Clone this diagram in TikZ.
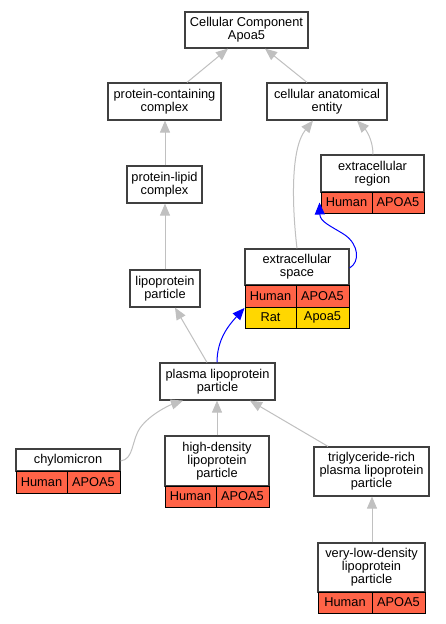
\documentclass[tikz,border=0pt]{standalone}
\usepackage{fontspec}
\setmainfont{Liberation Sans}
\usetikzlibrary{arrows.meta}
\definecolor{edgegrey}{RGB}{192,192,192}
\definecolor{boxline}{RGB}{64,64,64}
\definecolor{tomatoc}{RGB}{255,99,71}
\definecolor{goldc}{RGB}{255,215,0}
\definecolor{blueedge}{RGB}{0,0,255}
\tikzset{
  gbox/.style={draw=boxline, line width=1.2pt, fill=white, inner sep=0pt, align=center,
    font=\fontsize{12.8}{13}\selectfont},
  cellbox/.style={draw=black, line width=1pt, inner sep=0pt, align=center,
    font=\fontsize{12.8}{13}\selectfont},
  humancell/.style={cellbox, fill=tomatoc},
  ratcell/.style={cellbox, fill=goldc},
  isa/.style={draw=edgegrey, line width=1pt, -{Triangle[length=12pt,width=10pt]}},
  orth/.style={draw=blueedge, line width=1pt, -{Triangle[length=12pt,width=10pt]}},
}
\begin{document}
\begin{tikzpicture}[x=1pt,y=-1pt]
\useasboundingbox (0,0) rectangle (445,624);
\fill[white] (0,0) rectangle (445,624);
% nodes
\node[gbox, minimum width=123pt, minimum height=36pt] (cc) at (246.5,30) {Cellular Component\\Apoa5};
\node[gbox, minimum width=113pt, minimum height=37pt] (pcc) at (164.5,101.5) {protein-containing\\complex};
\node[gbox, minimum width=120pt, minimum height=37pt] (cae) at (327,101.5) {cellular anatomical\\entity};
\node[gbox, minimum width=75pt, minimum height=37pt] (plc) at (164.5,184.5) {protein-lipid\\complex};
% extracellular region
\node[gbox, minimum width=103pt, minimum height=37pt] (er) at (372.5,173.5) {extracellular\\region};
\node[humancell, minimum width=51pt, minimum height=21pt] (erH) at (346.5,202.5) {Human};
\node[humancell, minimum width=52pt, minimum height=21pt] (erA) at (398,202.5) {APOA5};
\node[gbox, minimum width=70pt, minimum height=37pt] (lp) at (165,288.5) {lipoprotein\\particle};
% extracellular space
\node[gbox, minimum width=104pt, minimum height=36pt] (es) at (297,267) {extracellular\\space};
\node[humancell, minimum width=51pt, minimum height=22pt] (esH) at (270.5,296) {Human};
\node[humancell, minimum width=53pt, minimum height=22pt] (esA) at (322.5,296) {APOA5};
\node[ratcell, minimum width=51pt, minimum height=21pt] (esR) at (270.5,317.5) {Rat};
\node[ratcell, minimum width=53pt, minimum height=21pt] (esB) at (322.5,317.5) {Apoa5};
\node[gbox, minimum width=115pt, minimum height=37pt] (pl) at (217.5,381.5) {plasma lipoprotein\\particle};
% chylomicron
\node[gbox, minimum width=104pt, minimum height=22pt] (ch) at (68,460) {chylomicron};
\node[humancell, minimum width=51pt, minimum height=22pt] (chH) at (41.5,482) {Human};
\node[humancell, minimum width=53pt, minimum height=22pt] (chA) at (93.5,482) {APOA5};
% hdl
\node[gbox, minimum width=104pt, minimum height=50pt] (hdl) at (217,461) {high-density\\lipoprotein\\particle};
\node[humancell, minimum width=51pt, minimum height=21pt] (hdlH) at (190.5,496.5) {Human};
\node[humancell, minimum width=53pt, minimum height=21pt] (hdlA) at (242.5,496.5) {APOA5};
% triglyceride
\node[gbox, minimum width=115pt, minimum height=49pt] (tg) at (371.5,471.5) {triglyceride-rich\\plasma lipoprotein\\particle};
% vldl
\node[gbox, minimum width=107pt, minimum height=49pt] (vl) at (371.5,567.5) {very-low-density\\lipoprotein\\particle};
\node[humancell, minimum width=54pt, minimum height=21pt] (vlH) at (345,602.5) {Human};
\node[humancell, minimum width=53pt, minimum height=21pt] (vlA) at (398.5,602.5) {APOA5};
% edges
\draw[isa] ([xshift=22.5pt]pcc.north) -- ([xshift=-18.5pt]cc.south);
\draw[isa] ([xshift=-20pt]cae.north) -- ([xshift=18.5pt]cc.south);
\draw[isa] ([xshift=0.5pt]plc.north) -- ([xshift=0.5pt]pcc.south);
\draw[isa] (lp.north) -- ([xshift=0.5pt]plc.south);
\draw[isa] (es.north) .. controls (293,215) and (289,150) .. ([xshift=-14pt]cae.south);
\draw[isa] ([xshift=0.5pt]er.north) .. controls (373,140) and (366,130) .. ([xshift=30pt]cae.south);
\draw[isa] ([xshift=-10.5pt]pl.north) -- ([xshift=10pt]lp.south);
\draw[orth] ([xshift=-0.5pt]pl.north) .. controls (217,340) and (228,326) .. ([yshift=-1.5pt]esR.north west);
\draw[orth] ([yshift=-1pt]es.east) .. controls (360,262) and (359,245) .. (345,235) .. controls (331,226) and (320,222) .. ([xshift=-1pt]erH.west);
\draw[isa] ([yshift=-1pt]ch.east) .. controls (134,459) and (131,442) .. (140,428) .. controls (150,414) and (170,405) .. ([xshift=-34.5pt]pl.south);
\draw[isa] (hdl.north) -- ([xshift=-0.5pt]pl.south);
\draw[isa] ([xshift=-43.5pt]tg.north) -- ([xshift=32.5pt]pl.south);
\draw[isa] ([xshift=0.5pt]vl.north) -- ([xshift=0.5pt]tg.south);
\end{tikzpicture}
\end{document}
